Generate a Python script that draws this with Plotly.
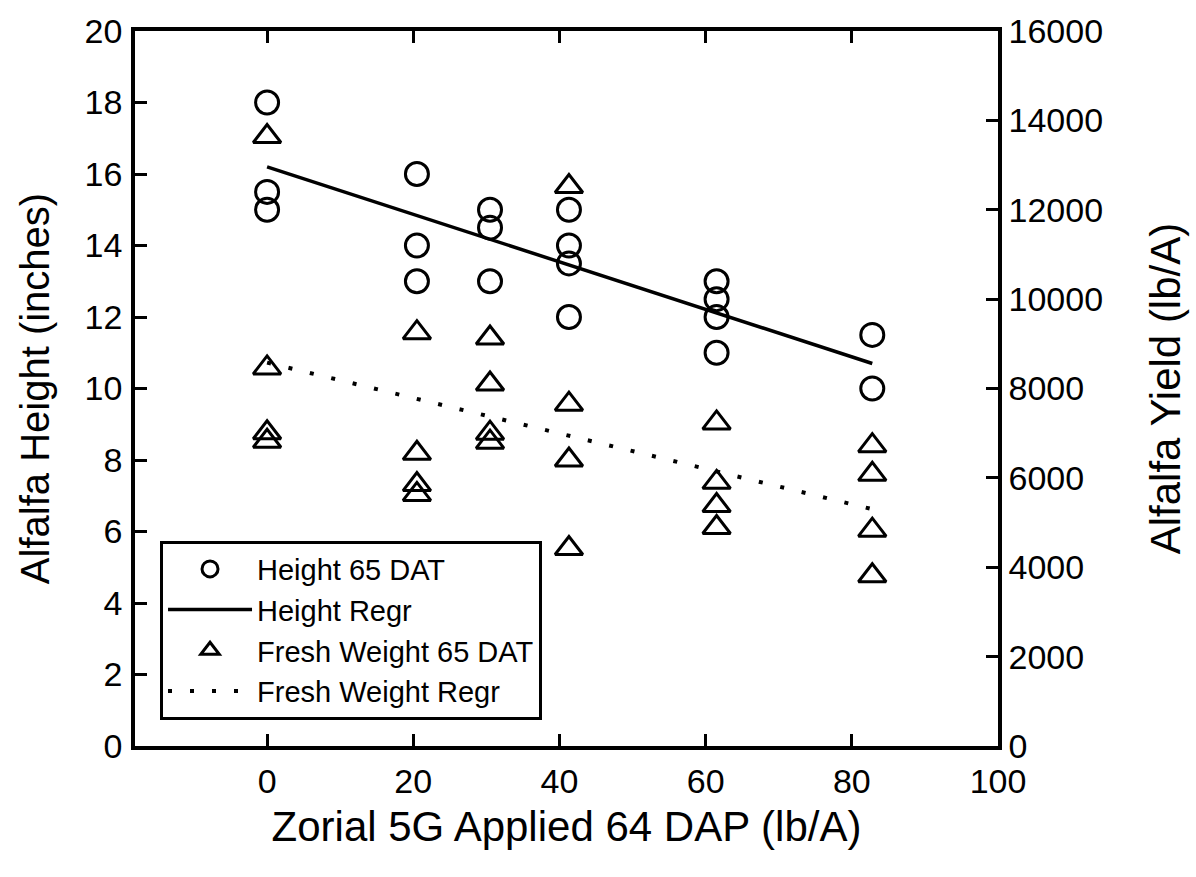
import plotly.graph_objects as go

# ---- data ----
height_x = [0, 0, 0, 20.5, 20.5, 20.5, 30.5, 30.5, 30.5, 41.3, 41.3, 41.3, 41.3,
            61.5, 61.5, 61.5, 61.5, 82.8, 82.8]
height_y = [18, 15.5, 15, 16, 14, 13, 15, 14.5, 13, 15, 14, 13.5, 12, 13, 12.5, 12, 11, 11.5, 10]

weight_x = [0, 0, 0, 0, 20.5, 20.5, 20.5, 20.5, 30.5, 30.5, 30.5, 30.5,
            41.3, 41.3, 41.3, 41.3, 61.5, 61.5, 61.5, 61.5, 82.8, 82.8, 82.8, 82.8]
weight_y = [13640, 8460, 7010, 6820, 9250, 6550, 5850, 5630, 9130, 8100, 7000, 6800,
            12520, 7650, 6400, 4420, 7230, 5900, 5380, 4890, 6720, 6080, 4830, 3810]

height_regr_x = [0, 82.8]
height_regr_y = [16.2, 10.7]
weight_regr_x = [0, 82.8]
weight_regr_y = [8580, 5300]

x_ticks = [0, 20, 40, 60, 80, 100]
FONT = "Liberation Sans, Arial, sans-serif"

fig = go.Figure()
fig.add_trace(go.Scatter(
    x=height_x, y=height_y, mode="markers", name="Height 65 DAT",
    marker=dict(symbol="circle-open", size=23, color="black", line=dict(width=3, color="black")),
    yaxis="y"))
fig.add_trace(go.Scatter(
    x=height_regr_x, y=height_regr_y, mode="lines", name="Height Regr",
    line=dict(color="black", width=3.5), yaxis="y"))
fig.add_trace(go.Scatter(
    x=weight_x, y=weight_y, mode="markers", name="Fresh Weight 65 DAT",
    marker=dict(symbol="triangle-up-open", size=24, color="black", line=dict(width=3, color="black")),
    yaxis="y2"))
fig.add_trace(go.Scatter(
    x=weight_regr_x, y=weight_regr_y, mode="lines", name="Fresh Weight Regr",
    line=dict(color="black", width=4, dash="4px,18px"), yaxis="y2"))

axis_common = dict(
    showline=True, linecolor="black", linewidth=3.5,
    ticks="inside", ticklen=12, tickwidth=3, tickcolor="black",
    showgrid=False, zeroline=False,
    tickfont=dict(family=FONT, size=34, color="black"),
)

fig.update_layout(
    width=1196, height=877,
    margin=dict(l=135, r=198, t=21, b=131),
    paper_bgcolor="white", plot_bgcolor="white",
    font=dict(family=FONT, color="black"),
    xaxis=dict(
        range=[-18.07, 100], tickvals=x_ticks, mirror="ticks",
        title=dict(text="Zorial 5G Applied 64 DAP (lb/A)", font=dict(family=FONT, size=42), standoff=14),
        ticklabelstandoff=2,
        **axis_common),
    yaxis=dict(
        range=[0, 20], dtick=2, mirror=True,
        title=dict(text="Alfalfa Height (inches)", font=dict(family=FONT, size=40), standoff=24),
        ticklabelstandoff=2,
        **axis_common),
    yaxis2=dict(
        range=[0, 16000], dtick=2000, overlaying="y", side="right", tickformat="d",
        title=dict(text="Alfalfa Yield (lb/A)", font=dict(family=FONT, size=42), standoff=50),
        ticklabelstandoff=0,
        **axis_common),
    legend=dict(
        x=0.029, y=0.037, xanchor="left", yanchor="bottom",
        bgcolor="white", bordercolor="black", borderwidth=3,
        font=dict(family=FONT, size=29, color="black"),
        tracegroupgap=0, itemwidth=84,
    ),
    showlegend=True,
)

fig.write_html("out.html")
